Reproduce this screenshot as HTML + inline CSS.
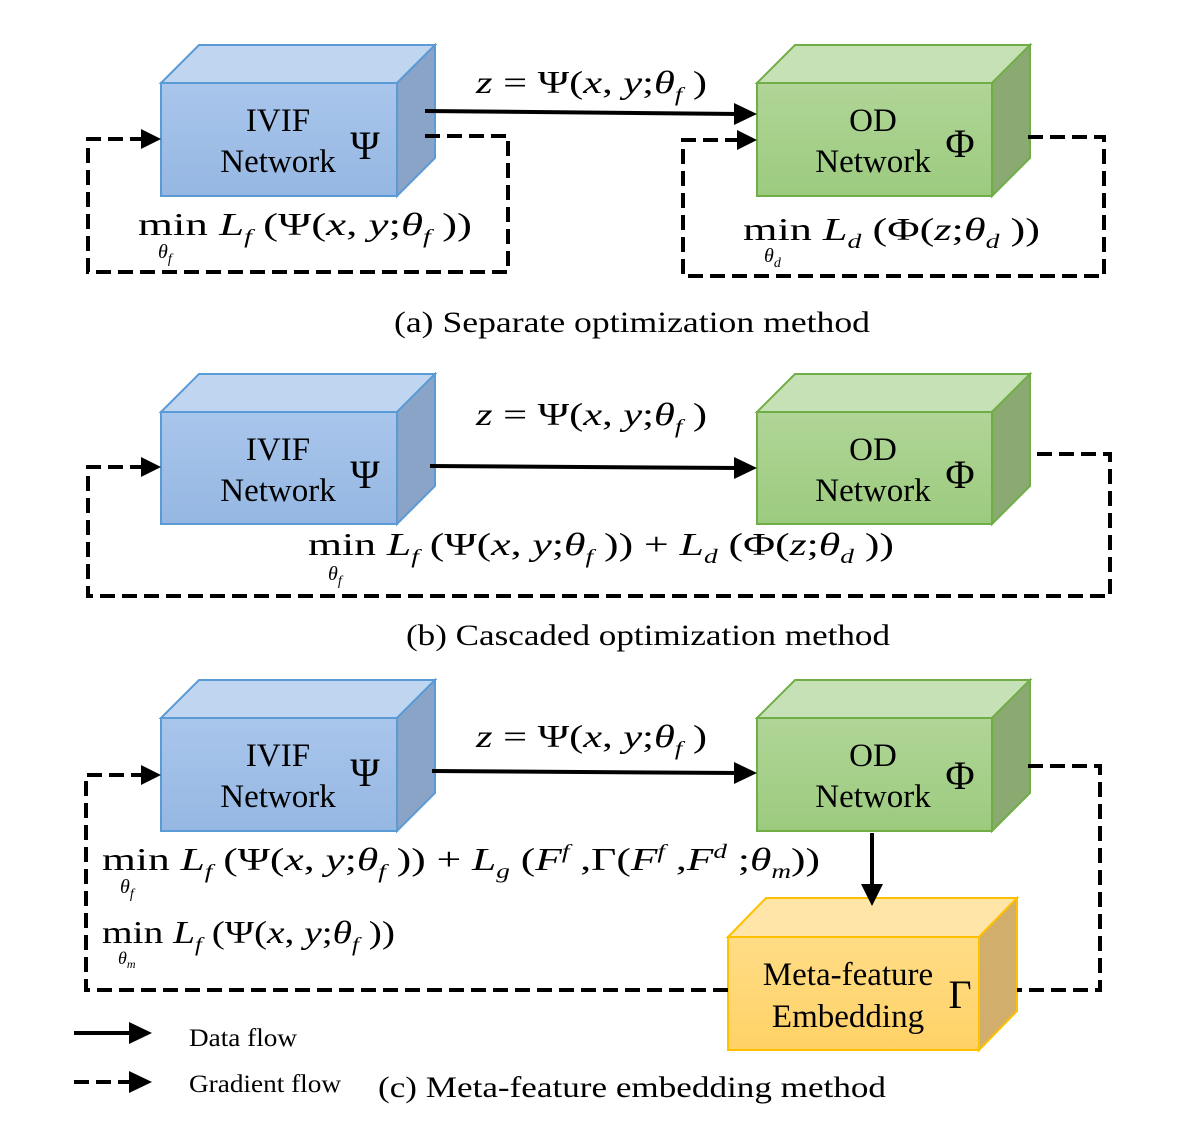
<!DOCTYPE html>
<html><head><meta charset="utf-8"><style>
html,body{margin:0;padding:0;background:#fff;}
svg{display:block;}
text{font-family:"Liberation Serif",serif;fill:#000;}
.m{font-style:italic;}
</style></head><body>
<svg width="1179" height="1133" viewBox="0 0 1179 1133" xmlns="http://www.w3.org/2000/svg">
<defs>
<linearGradient id="bf" x1="0" y1="0" x2="0" y2="1"><stop offset="0" stop-color="#a9c6ec"/><stop offset="1" stop-color="#95b7e2"/></linearGradient>
<linearGradient id="gf" x1="0" y1="0" x2="0" y2="1"><stop offset="0" stop-color="#b0d597"/><stop offset="1" stop-color="#9ccb7e"/></linearGradient>
<linearGradient id="of" x1="0" y1="0" x2="0" y2="1"><stop offset="0" stop-color="#ffdc86"/><stop offset="1" stop-color="#ffd266"/></linearGradient>
</defs>

<g stroke-width="2">
<g stroke="#5b9bd5"><polygon points="161,83 199,45 435,45 397,83" fill="#c0d6f0"/><polygon points="397,83 435,45 435,158 397,196" fill="#8aa4c8"/><rect x="161" y="83" width="236" height="113" fill="url(#bf)"/></g>
<g stroke="#70ad47"><polygon points="757,83 795,45 1030,45 992,83" fill="#c7e1b6"/><polygon points="992,83 1030,45 1030,158 992,196" fill="#8aaa72"/><rect x="757" y="83" width="235" height="113" fill="url(#gf)"/></g>
<g stroke="#5b9bd5"><polygon points="161,412 199,374 435,374 397,412" fill="#c0d6f0"/><polygon points="397,412 435,374 435,486 397,524" fill="#8aa4c8"/><rect x="161" y="412" width="236" height="112" fill="url(#bf)"/></g>
<g stroke="#70ad47"><polygon points="757,412 795,374 1030,374 992,412" fill="#c7e1b6"/><polygon points="992,412 1030,374 1030,486 992,524" fill="#8aaa72"/><rect x="757" y="412" width="235" height="112" fill="url(#gf)"/></g>
<g stroke="#5b9bd5"><polygon points="161,718 199,680 435,680 397,718" fill="#c0d6f0"/><polygon points="397,718 435,680 435,793 397,831" fill="#8aa4c8"/><rect x="161" y="718" width="236" height="113" fill="url(#bf)"/></g>
<g stroke="#70ad47"><polygon points="757,718 795,680 1030,680 992,718" fill="#c7e1b6"/><polygon points="992,718 1030,680 1030,793 992,831" fill="#8aaa72"/><rect x="757" y="718" width="235" height="113" fill="url(#gf)"/></g>
<g stroke="#ffc000"><polygon points="728,937 766,898 1017,898 979,937" fill="#ffe6a8"/><polygon points="979,937 1017,898 1017,1011 979,1050" fill="#d2ae6c"/><rect x="728" y="937" width="251" height="113" fill="url(#of)"/></g>
</g>

<g font-size="33" text-anchor="middle">
<text x="278" y="131">IVIF</text><text x="278" y="172">Network</text>
<text x="873" y="131">OD</text><text x="873" y="172">Network</text>
<text x="278" y="460">IVIF</text><text x="278" y="501">Network</text>
<text x="873" y="460">OD</text><text x="873" y="501">Network</text>
<text x="278" y="766">IVIF</text><text x="278" y="807">Network</text>
<text x="873" y="766">OD</text><text x="873" y="807">Network</text>
<text x="848" y="985">Meta-feature</text><text x="848" y="1027">Embedding</text>
</g>
<g font-size="40" text-anchor="middle">
<text x="365" y="159">Ψ</text><text x="960" y="157">Φ</text>
<text x="365" y="488">Ψ</text><text x="960" y="488">Φ</text>
<text x="365" y="786">Ψ</text><text x="960" y="789">Φ</text>
<text x="960" y="1008">Γ</text>
</g>

<g stroke="#000" stroke-width="4" fill="none">
<line x1="425" y1="111" x2="740" y2="114"/>
<line x1="430" y1="466" x2="740" y2="468"/>
<line x1="432" y1="771" x2="740" y2="773"/>
<line x1="872" y1="833" x2="872" y2="888"/>
<line x1="74" y1="1033" x2="135" y2="1033"/>
</g>
<g stroke="#000" stroke-width="4" fill="none" stroke-dasharray="15,7">
<polyline points="425,136 508,136 508,272 88,272 88,139 145,139"/>
<polyline points="1028,137 1104,137 1104,276 683,276 683,140 740,140"/>
<polyline points="1037,454 1110,454 1110,596 88,596 88,467 145,467"/>
<polyline points="1028,766 1100,766 1100,990 1017,990"/>
<polyline points="728,990 86,990 86,775 145,775"/>
<line x1="74" y1="1082" x2="135" y2="1082"/>
</g>
<g fill="#000">
<polygon points="734,103 757,114 734,125"/>
<polygon points="734,457 757,468 734,479"/>
<polygon points="734,762 757,773 734,784"/>
<polygon points="861,884 883,884 872,906"/>
<polygon points="129,1022 152,1033 129,1044"/>
<polygon points="141,129 161,139 141,149"/>
<polygon points="737,130 757,140 737,150"/>
<polygon points="141,457 161,467 141,477"/>
<polygon points="141,765 161,775 141,785"/>
<polygon points="129,1071 152,1082 129,1093"/>
</g>

<g font-size="32">
<text x="476" y="93" textLength="231" lengthAdjust="spacingAndGlyphs"><tspan class="m">z</tspan> = Ψ(<tspan class="m">x</tspan>, <tspan class="m">y</tspan>;<tspan class="m">θ</tspan><tspan class="m" font-size="20" dy="8">f</tspan><tspan dy="-8"> )</tspan></text>
<text x="476" y="425" textLength="231" lengthAdjust="spacingAndGlyphs"><tspan class="m">z</tspan> = Ψ(<tspan class="m">x</tspan>, <tspan class="m">y</tspan>;<tspan class="m">θ</tspan><tspan class="m" font-size="20" dy="8">f</tspan><tspan dy="-8"> )</tspan></text>
<text x="476" y="747" textLength="231" lengthAdjust="spacingAndGlyphs"><tspan class="m">z</tspan> = Ψ(<tspan class="m">x</tspan>, <tspan class="m">y</tspan>;<tspan class="m">θ</tspan><tspan class="m" font-size="20" dy="8">f</tspan><tspan dy="-8"> )</tspan></text>

<text x="138" y="235" textLength="334" lengthAdjust="spacingAndGlyphs">min <tspan class="m">L</tspan><tspan class="m" font-size="20" dy="8">f</tspan><tspan dy="-8"> (Ψ(</tspan><tspan class="m">x</tspan>, <tspan class="m">y</tspan>;<tspan class="m">θ</tspan><tspan class="m" font-size="20" dy="8">f</tspan><tspan dy="-8"> ))</tspan></text>
<text x="158" y="258" font-size="20" class="m">θ<tspan font-size="14" dy="5">f</tspan></text>

<text x="743" y="240" textLength="297" lengthAdjust="spacingAndGlyphs">min <tspan class="m">L</tspan><tspan class="m" font-size="20" dy="8">d</tspan><tspan dy="-8"> (Φ(</tspan><tspan class="m">z</tspan>;<tspan class="m">θ</tspan><tspan class="m" font-size="20" dy="8">d</tspan><tspan dy="-8"> ))</tspan></text>
<text x="764" y="262" font-size="20" class="m">θ<tspan font-size="14" dy="5">d</tspan></text>

<text x="308" y="555" textLength="586" lengthAdjust="spacingAndGlyphs">min <tspan class="m">L</tspan><tspan class="m" font-size="20" dy="8">f</tspan><tspan dy="-8"> (Ψ(</tspan><tspan class="m">x</tspan>, <tspan class="m">y</tspan>;<tspan class="m">θ</tspan><tspan class="m" font-size="20" dy="8">f</tspan><tspan dy="-8"> )) + </tspan><tspan class="m">L</tspan><tspan class="m" font-size="20" dy="8">d</tspan><tspan dy="-8"> (Φ(</tspan><tspan class="m">z</tspan>;<tspan class="m">θ</tspan><tspan class="m" font-size="20" dy="8">d</tspan><tspan dy="-8"> ))</tspan></text>
<text x="328" y="580" font-size="20" class="m">θ<tspan font-size="14" dy="5">f</tspan></text>

<text x="102" y="870" textLength="718" lengthAdjust="spacingAndGlyphs">min <tspan class="m">L</tspan><tspan class="m" font-size="20" dy="8">f</tspan><tspan dy="-8"> (Ψ(</tspan><tspan class="m">x</tspan>, <tspan class="m">y</tspan>;<tspan class="m">θ</tspan><tspan class="m" font-size="20" dy="8">f</tspan><tspan dy="-8"> )) + </tspan><tspan class="m">L</tspan><tspan class="m" font-size="20" dy="8">g</tspan><tspan dy="-8"> (</tspan><tspan class="m">F</tspan><tspan class="m" font-size="20" dy="-12">f</tspan><tspan dy="12"> ,Γ(</tspan><tspan class="m">F</tspan><tspan class="m" font-size="20" dy="-12">f</tspan><tspan dy="12"> ,</tspan><tspan class="m">F</tspan><tspan class="m" font-size="20" dy="-12">d</tspan><tspan dy="12"> ;</tspan><tspan class="m">θ</tspan><tspan class="m" font-size="20" dy="8">m</tspan><tspan dy="-8">))</tspan></text>
<text x="120" y="893" font-size="20" class="m">θ<tspan font-size="14" dy="5">f</tspan></text>

<text x="102" y="943" textLength="293" lengthAdjust="spacingAndGlyphs">min <tspan class="m">L</tspan><tspan class="m" font-size="20" dy="8">f</tspan><tspan dy="-8"> (Ψ(</tspan><tspan class="m">x</tspan>, <tspan class="m">y</tspan>;<tspan class="m">θ</tspan><tspan class="m" font-size="20" dy="8">f</tspan><tspan dy="-8"> ))</tspan></text>
<text x="118" y="964" font-size="18" class="m">θ<tspan font-size="12" dy="4">m</tspan></text>
</g>

<g font-size="30">
<text x="394" y="332" textLength="476" lengthAdjust="spacingAndGlyphs">(a)  Separate optimization method</text>
<text x="406" y="645" textLength="484" lengthAdjust="spacingAndGlyphs">(b) Cascaded optimization method</text>
<text x="378" y="1097" textLength="508" lengthAdjust="spacingAndGlyphs">(c) Meta-feature embedding method</text>
</g>
<g font-size="25">
<text x="189" y="1046" textLength="108" lengthAdjust="spacingAndGlyphs">Data flow</text>
<text x="189" y="1092" textLength="152" lengthAdjust="spacingAndGlyphs">Gradient flow</text>
</g>
</svg>
</body></html>
